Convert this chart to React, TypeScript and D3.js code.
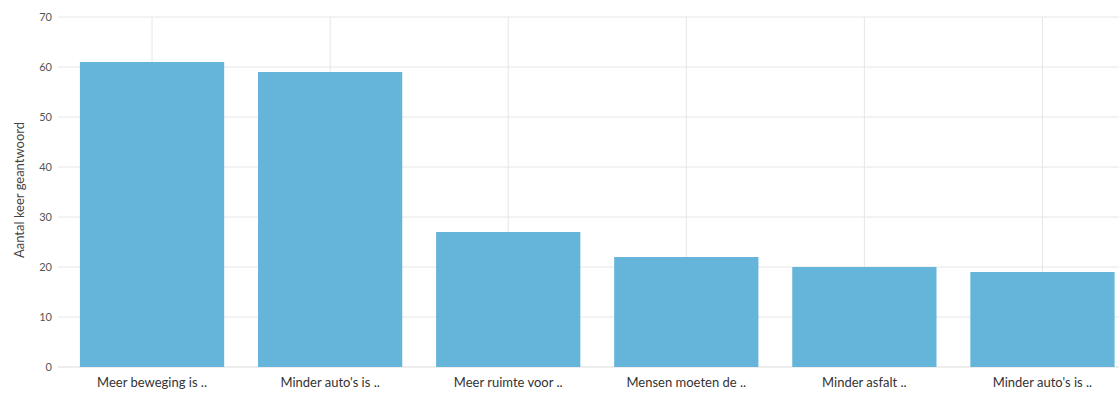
import React from "react";
import * as d3 from "d3";

const categories = [
  "Meer beweging is ..",
  "Minder auto's is ..",
  "Meer ruimte voor ..",
  "Mensen moeten de ..",
  "Minder asfalt ..",
  "Minder auto's is ..",
];
const values = [61, 59, 27, 22, 20, 19];
const yTicks = [0, 10, 20, 30, 40, 50, 60, 70];
const yLabel = "Aantal keer geantwoord";

export default function App() {
  const W = 1119;
  const H = 399;
  const x = d3
    .scaleBand<string>()
    .domain(categories.map((_, i) => String(i)))
    .range([63, 1131.5])
    .paddingInner(0.19)
    .paddingOuter(0.095);
  const y = d3.scaleLinear().domain([0, 70]).range([367, 17]);
  const font = "Lato, 'Open Sans', sans-serif";
  return (
    <svg
      width={W}
      height={H}
      style={{ position: "absolute", left: 0, top: 0, background: "#fff" }}
    >
      {categories.map((_, i) => {
        const cx = (x(String(i)) as number) + x.bandwidth() / 2;
        return (
          <line
            key={"v" + i}
            x1={cx}
            x2={cx}
            y1={y(70)}
            y2={y(0)}
            stroke="#e6e6e6"
            strokeWidth={1}
          />
        );
      })}
      {yTicks.map((t) => (
        <g key={"t" + t}>
          <line
            x1={58}
            x2={W}
            y1={y(t)}
            y2={y(t)}
            stroke={t === 0 ? "#dcdcdc" : "#e6e6e6"}
            strokeWidth={1}
          />
          <text
            x={52}
            y={y(t)}
            dy="0.35em"
            textAnchor="end"
            fontSize={11}
            fill="#555"
            fontFamily={font}
          >
            {t}
          </text>
        </g>
      ))}
      {values.map((v, i) => (
        <rect
          key={"b" + i}
          x={x(String(i))}
          y={y(v)}
          width={x.bandwidth()}
          height={y(0) - y(v)}
          fill="#65b5db"
        />
      ))}
      {categories.map((c, i) => (
        <text
          key={"l" + i}
          x={(x(String(i)) as number) + x.bandwidth() / 2}
          y={386.5}
          textAnchor="middle"
          fontSize={13}
          fill="#333"
          fontFamily={font}
        >
          {c}
        </text>
      ))}
      <text
        transform={`translate(24, 190) rotate(-90)`}
        textAnchor="middle"
        fontSize={13}
        fill="#444"
        fontFamily={font}
      >
        {yLabel}
      </text>
    </svg>
  );
}
